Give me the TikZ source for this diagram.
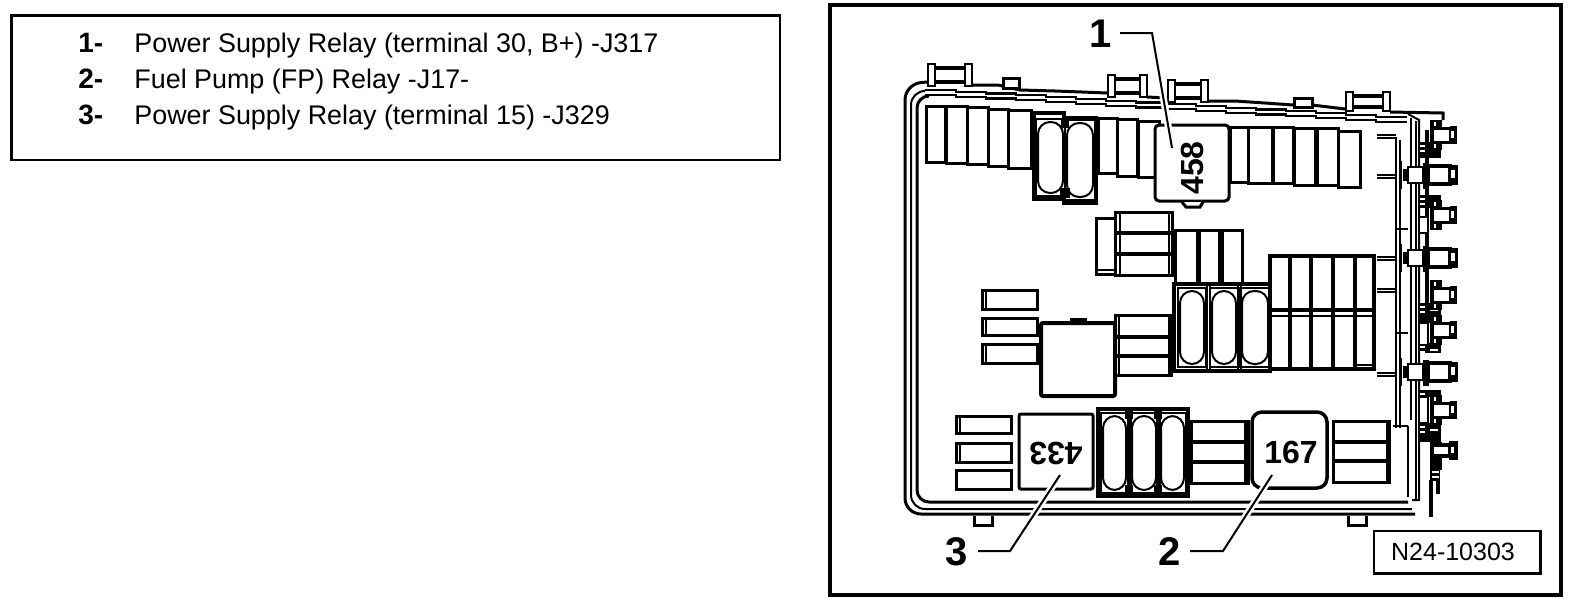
\documentclass[tikz,border=0pt]{standalone}
\usepackage{fontspec}
\setmainfont{Liberation Sans}
\newcommand{\fz}[4]{\draw[fuse] (#1,#2) rectangle (#3,#4);}
\newcommand{\ov}[4]{%
  \draw[line width=0.6pt] (#1-3,#2-3) rectangle (#3+3,#4+3);
  \draw[oval,fill=white] (#1-1,#2) rectangle (#3+1,#4);}
\newcommand{\blk}[4]{\fill[black] (#1,#2) rectangle (#3,#4);}
\newcommand{\wht}[4]{\fill[white] (#1,#2) rectangle (#3,#4);}
\newcommand{\lug}[4]{%
  \fill[white] (#1,#2) rectangle (#3,#4);
  \draw[line width=1.25pt] (#1,#2) rectangle (#1+7,#4);
  \draw[line width=1.25pt] (#3-7,#2) rectangle (#3,#4);
  \draw[line width=2pt] (#1+7,#2+4) -- (#3-7,#2+4);
  \draw[line width=2pt] (#1+7,#4-4) -- (#3-7,#4-4);}
\newcommand{\splug}[1]{%
  \blk{1430}{#1-15}{1442}{#1+15}
  \draw[fuse,fill=white] (1432,#1-7) rectangle (1450,#1+7);
  \blk{1450}{#1-9}{1457}{#1+9}
  \wht{1451}{#1-4}{1454}{#1+3}
  \wht{1434}{#1-13}{1436}{#1-9}
  \wht{1434}{#1+9}{1436}{#1+13}}
\newcommand{\bplug}[1]{%
  \draw[line width=1pt] (1401,#1-14) -- (1401,#1+14);
  \blk{1403}{#1-6}{1409}{#1+6}
  \draw[fine,fill=white] (1408,#1-8) rectangle (1423,#1+8);
  \blk{1423}{#1-12}{1429}{#1+14}
  \draw[line width=1.75pt,fill=white] (1428,#1-9) rectangle (1450,#1+9);
  \blk{1449}{#1-10}{1458}{#1+10}
  \wht{1451}{#1-5}{1455}{#1+3}}
\newcommand{\hatchb}[2]{%
  \blk{1419}{#1}{1441}{#2}
  \wht{1420}{#1+3}{1425}{#1+5}
  \wht{1420}{#1+8}{1425}{#1+10}
  \wht{1430}{#1+6}{1438}{#1+8}}
\tikzset{
  fuse/.style={line width=1.5pt,line join=miter},
  fine/.style={line width=1pt},
  oval/.style={line width=1pt,rounded corners=6pt},
  house/.style={line width=1.5pt,rounded corners=8pt},
  leadw/.style={white,line width=3.5pt},
  lead/.style={black,line width=1pt},
  lg/.style={font=\fontsize{13.45}{15}\selectfont,inner sep=0pt,anchor=base west},
  lgb/.style={font=\fontsize{14}{15}\selectfont\bfseries,inner sep=0pt,anchor=base west},
  num/.style={font=\fontsize{20}{22}\selectfont\bfseries,inner sep=0pt,anchor=base},
  relaytxt/.style={font=\fontsize{16}{20}\selectfont\bfseries,inner sep=0pt}
}
\begin{document}
\begin{tikzpicture}[x=0.5pt,y=-0.5pt]
\useasboundingbox (0,0) rectangle (1584,606);
\fill[white] (0,0) rectangle (1584,606);
% legend
\draw[line width=1.1pt] (11.5,15.5) rectangle (780,160);
\node[lgb] (n1) at (78,52) {1-};
\node[lg] (t1) at (134,52) {Power Supply Relay (terminal 30, B+) -J317};
\node[lgb] (n2) at (78,88) {2-};
\node[lg] (t2) at (134,88) {Fuel Pump (FP) Relay -J17-};
\node[lgb] (n3) at (78,124) {3-};
\node[lg] (t3) at (134,124) {Power Supply Relay (terminal 15) -J329};
% frame
\draw[line width=2pt] (829.5,4.5) rectangle (1561,595);
% housing outer
\draw[house] (1415,514) -- (905,514) -- (905,84) -- (927,82);
\draw[line width=1.5pt] (927,83) -- (972,85) -- (998,85) -- (1020,90) -- (1055,91) -- (1082,92) -- (1107,93);
\draw[line width=1.5pt] (1147,97) -- (1167,98);
\draw[line width=1.5pt] (1208,101) -- (1235,101) -- (1265,103) -- (1293,105) -- (1312,105) -- (1345,109);
\draw[line width=1.5pt] (1390,112) -- (1443,113) -- (1443,120);
\draw[line width=1pt,rounded corners=7pt] (1412,509) -- (911,509) -- (911,91) -- (925,91);
\draw[line width=1.5pt,rounded corners=6pt] (1408,502) -- (917,502) -- (917,96) -- (925,96);
% stepped top lines
\foreach \i in {0,...,15}{
  \pgfmathsetmacro{\xa}{925+\i*30}
  \pgfmathsetmacro{\xb}{\xa+32}
  \pgfmathsetmacro{\ya}{90+\i*1.78}
  \draw[line width=1.1pt] (\xa,\ya) -- (\xb,\ya);
  \draw[line width=1.1pt] (\xa,\ya+5) -- (\xb,\ya+5);
}
% top tabs
\lug{928}{64}{972}{86}
\draw[fuse,fill=white] (1003,78) rectangle (1019,88);
\lug{1108}{75}{1147}{97}
\lug{1168}{80}{1208}{102}
\draw[fuse,fill=white] (1294,98) rectangle (1312,107);
\lug{1346}{92}{1390}{111}
% bottom tabs
\draw[fuse] (974,516) -- (974,525) -- (992,525) -- (992,516);
\draw[fuse] (1348,516) -- (1348,525) -- (1366,525) -- (1366,516);
% top row fuses
\fz{926}{106}{945}{162}
\fz{946}{106}{967}{163}
\fz{967}{107}{988}{164}
\fz{988}{109}{1008}{166}
\fz{1008}{110}{1031}{168}
\fz{1098}{118}{1117}{173}
\fz{1117}{119}{1137}{176}
\fz{1138}{121}{1159}{177}
\fz{1230}{127}{1248}{182}
\fz{1248}{127}{1272}{183}
\fz{1273}{127}{1293}{183}
\fz{1294}{128}{1315}{185}
\fz{1317}{128}{1338}{185}
\fz{1338}{131}{1360}{187}
% top oval block
\draw[line width=1.75pt] (1034,113) -- (1064,113) -- (1064,118) -- (1096,118) -- (1096,203) -- (1064,203) -- (1064,199) -- (1034,199) -- cycle;
\ov{1039}{122}{1062}{193}
\ov{1068}{123}{1092}{197}
\blk{1061}{120}{1069}{128}
\blk{1060}{188}{1070}{198}
% relay 458
\draw[fuse,rounded corners=2pt,fill=white] (1155,125) rectangle (1229,201);
\draw[fuse,fill=white] (1182,202) -- (1186,207) -- (1200,207) -- (1203,202);
\node[relaytxt,rotate=90] (r458) at (1192.5,168) {458};
% middle-top group
\draw[fuse] (1096,218) rectangle (1115,274);
\draw[fine] (1096,270) -- (1115,270);
\draw[fuse] (1115,212) rectangle (1172,275);
\draw[line width=2pt] (1115,232.5) -- (1172,232.5);
\draw[line width=2pt] (1115,254) -- (1172,254);
\draw[fine] (1120,212) -- (1120,275);
\draw[fine] (1169,212) -- (1169,275);
\fz{1175}{230}{1197}{283}
\fz{1199}{230}{1219}{283}
\fz{1222}{230}{1242}{283}
% fuse grid
\draw[line width=2pt] (1270,256) rectangle (1374,369);
\draw[line width=2pt] (1270,310) -- (1374,310);
\draw[fine] (1270,316) -- (1374,316);
\foreach \vx in {1289.5,1333,1354.5} {\draw[line width=2pt] (\vx,256) -- (\vx,369);}
\draw[fine] (1310,256) -- (1310,369);
\draw[fine] (1312,256) -- (1312,369);
\draw[fine] (1355,365) -- (1374,365);
% middle oval block
\draw[line width=1.75pt] (1174,284) rectangle (1270,371);
\ov{1181}{291}{1203}{364}
\ov{1213}{291}{1235}{364}
\ov{1243}{291}{1267}{364}
\foreach \vx in {1208,1239} {
  \draw[fine] (\vx-1.5,286) -- (\vx-1.5,369);
  \draw[fine] (\vx+1.5,286) -- (\vx+1.5,369);
}
% left middle stack
\draw[fuse] (982,290) rectangle (1037,309);
\draw[fuse] (982,318) rectangle (1037,335);
\draw[fuse] (982,344) rectangle (1037,363);
\foreach \yy/\yz in {290/309,318/335,344/363} {\draw[fine] (986,\yy) -- (986,\yz);}
% empty relay
\draw[line width=2pt,rounded corners=1pt,fill=white] (1041,323) rectangle (1115,396);
\blk{1070}{318}{1087}{323}
% middle right stack
\draw[fuse] (1115,315) rectangle (1171,375);
\draw[line width=2pt] (1115,336.5) -- (1171,336.5);
\draw[line width=2pt] (1115,356) -- (1171,356);
\draw[fine] (1119,315) -- (1119,375);
\draw[fine] (1169,315) -- (1169,375);
% bottom left stack
\draw[fuse] (956,416) rectangle (1011,433);
\draw[fuse] (956,443) rectangle (1011,462);
\draw[fuse] (956,470) rectangle (1011,489);
\draw[fine] (960,416) -- (960,433);
\draw[fine] (960,443) -- (960,462);
% relay 433
\draw[fuse,rounded corners=1pt] (1019,414) rectangle (1093,489);
\node[relaytxt,rotate=180] (r433) at (1056,453.5) {433};
% bottom oval block
\draw[line width=2pt] (1098,409) rectangle (1188,496);
\ov{1104}{416}{1125}{490}
\ov{1133}{416}{1155}{490}
\ov{1162}{416}{1183}{490}
\foreach \vx in {1129,1158} {
  \blk{\vx-4}{409}{\vx+4}{419}
  \blk{\vx-4}{485}{\vx+4}{496}
  \draw[fine] (\vx-1.5,419) -- (\vx-1.5,485);
  \draw[fine] (\vx+1.5,419) -- (\vx+1.5,485);
}
% bottom stacks
\draw[fuse] (1191,421) rectangle (1248,483);
\draw[line width=2pt] (1191,442) -- (1248,442);
\draw[line width=2pt] (1191,462) -- (1248,462);
\draw[fine] (1245,421) -- (1245,483);
\draw[fine] (1247,421) -- (1247,483);
\draw[fuse] (1333,421) rectangle (1389,482);
\draw[line width=2pt] (1333,442) -- (1389,442);
\draw[line width=2pt] (1333,461) -- (1389,461);
\draw[fine] (1387,421) -- (1387,482);
% relay 167
\draw[line width=1.75pt,rounded corners=5pt,fill=white] (1252,412) rectangle (1327,488);
\node[relaytxt] (r167) at (1291,452.5) {167};
% right stubs
\foreach \sy in {137,177,259,291,375} {
  \draw[fine] (1377,\sy-2) -- (1396,\sy-2);
  \draw[fine] (1377,\sy+1) -- (1396,\sy+1);
}
% right verticals
\draw[fine] (1396,137) -- (1396,428);
\draw[line width=1.25pt] (1400,140) -- (1400,428);
\draw[fine] (1393,426) -- (1408,426);
\draw[line width=1.25pt] (1408,426) -- (1408,497);
\draw[fine] (1411,118) -- (1411,420);
\draw[line width=1.25pt] (1416,121) -- (1416,500);
\draw[fine] (1412,500) -- (1419,500) -- (1419,120) -- (1408,114);
\draw[line width=1.75pt] (1427,130) -- (1427,350);
\draw[line width=1.25pt] (1396,229) -- (1408,229);
\draw[line width=1.25pt] (1396,333) -- (1408,333);
% connectors on right
\hatchb{142}{158}
\hatchb{195}{208}
\hatchb{303}{323}
\hatchb{343}{353}
\hatchb{390}{397}
\hatchb{423}{442}
\draw[fine,fill=white] (1419,217) rectangle (1428,233);
\draw[fine,fill=white] (1419,323) rectangle (1428,345);
\draw[fine,fill=white] (1419,397) rectangle (1428,423);
\splug{135}
\bplug{175}
\splug{215}
\bplug{258}
\splug{295}
\splug{330}
\bplug{372}
\splug{410}
% lower plug and pins
\blk{1430}{442}{1442}{470}
\draw[line width=2pt,fill=white] (1432,445) rectangle (1450,456);
\blk{1449}{441}{1458}{460}
\wht{1451}{447}{1454}{453}
\blk{1430}{467}{1440}{481}
\wht{1432}{471}{1439}{472.5}
\wht{1432}{476}{1439}{477.5}
\draw[line width=2pt] (1431,480) -- (1431,517);
\draw[line width=1.75pt] (1438,480) -- (1438,494);
% labels and leaders
\node[num] (a1) at (1101,47) {1};
\node[num] (a3) at (957,565) {3};
\node[num] (a2) at (1170,565) {2};
\coordinate (e1a) at (1120,33);
\coordinate (e1b) at (1152,33);
\coordinate (e1c) at (1172,148);
\coordinate (e3a) at (978,551);
\coordinate (e3b) at (1010,551);
\coordinate (e3c) at (1060,475);
\coordinate (e2a) at (1190,551);
\coordinate (e2b) at (1223,551);
\coordinate (e2c) at (1272,475);
\draw[leadw] (e1b) -- (e1c);
\draw[leadw] (e3b) -- (e3c);
\draw[leadw] (e2b) -- (e2c);
\draw[lead] (e1a) -- (e1b) -- (e1c);
\draw[lead] (e3a) -- (e3b) -- (e3c);
\draw[lead] (e2a) -- (e2b) -- (e2c);
% code box
\draw[line width=1.1pt] (1374,531) rectangle (1540.5,573.5);
\node[font=\fontsize{12.5}{15}\selectfont,inner sep=0pt] (code) at (1453,552) {N24-10303};
\end{tikzpicture}
\end{document}
